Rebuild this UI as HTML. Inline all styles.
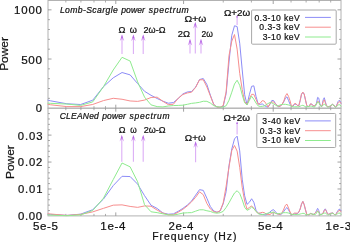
<!DOCTYPE html>
<html><head><meta charset="utf-8"><style>
html,body{margin:0;padding:0;background:#fff;width:350px;height:242px;overflow:hidden}
svg{display:block;will-change:transform}
text{font-family:"Liberation Sans",sans-serif}
</style></head><body>
<svg width="350" height="242" viewBox="0 0 350 242" font-family="Liberation Sans, sans-serif">
<rect width="350" height="242" fill="#fff"/>
<rect x="48.0" y="0.5" width="293.0" height="107.7" fill="none" stroke="#b2b2b2" stroke-width="1"/>
<line x1="115.79" y1="108.2" x2="115.79" y2="104.7" stroke="#8a8a8a" stroke-width="0.8"/>
<line x1="115.79" y1="0.5" x2="115.79" y2="4" stroke="#8a8a8a" stroke-width="0.8"/>
<line x1="183.59" y1="108.2" x2="183.59" y2="104.7" stroke="#8a8a8a" stroke-width="0.8"/>
<line x1="183.59" y1="0.5" x2="183.59" y2="4" stroke="#8a8a8a" stroke-width="0.8"/>
<line x1="273.21" y1="108.2" x2="273.21" y2="104.7" stroke="#8a8a8a" stroke-width="0.8"/>
<line x1="273.21" y1="0.5" x2="273.21" y2="4" stroke="#8a8a8a" stroke-width="0.8"/>
<line x1="65.83" y1="108.2" x2="65.83" y2="106.2" stroke="#8a8a8a" stroke-width="0.7"/>
<line x1="65.83" y1="0.5" x2="65.83" y2="2.5" stroke="#8a8a8a" stroke-width="0.7"/>
<line x1="80.91" y1="108.2" x2="80.91" y2="106.2" stroke="#8a8a8a" stroke-width="0.7"/>
<line x1="80.91" y1="0.5" x2="80.91" y2="2.5" stroke="#8a8a8a" stroke-width="0.7"/>
<line x1="93.97" y1="108.2" x2="93.97" y2="106.2" stroke="#8a8a8a" stroke-width="0.7"/>
<line x1="93.97" y1="0.5" x2="93.97" y2="2.5" stroke="#8a8a8a" stroke-width="0.7"/>
<line x1="105.49" y1="108.2" x2="105.49" y2="106.2" stroke="#8a8a8a" stroke-width="0.7"/>
<line x1="105.49" y1="0.5" x2="105.49" y2="2.5" stroke="#8a8a8a" stroke-width="0.7"/>
<line x1="223.24" y1="108.2" x2="223.24" y2="106.2" stroke="#8a8a8a" stroke-width="0.7"/>
<line x1="223.24" y1="0.5" x2="223.24" y2="2.5" stroke="#8a8a8a" stroke-width="0.7"/>
<line x1="251.38" y1="108.2" x2="251.38" y2="106.2" stroke="#8a8a8a" stroke-width="0.7"/>
<line x1="251.38" y1="0.5" x2="251.38" y2="2.5" stroke="#8a8a8a" stroke-width="0.7"/>
<line x1="291.04" y1="108.2" x2="291.04" y2="106.2" stroke="#8a8a8a" stroke-width="0.7"/>
<line x1="291.04" y1="0.5" x2="291.04" y2="2.5" stroke="#8a8a8a" stroke-width="0.7"/>
<line x1="306.12" y1="108.2" x2="306.12" y2="106.2" stroke="#8a8a8a" stroke-width="0.7"/>
<line x1="306.12" y1="0.5" x2="306.12" y2="2.5" stroke="#8a8a8a" stroke-width="0.7"/>
<line x1="319.18" y1="108.2" x2="319.18" y2="106.2" stroke="#8a8a8a" stroke-width="0.7"/>
<line x1="319.18" y1="0.5" x2="319.18" y2="2.5" stroke="#8a8a8a" stroke-width="0.7"/>
<line x1="330.7" y1="108.2" x2="330.7" y2="106.2" stroke="#8a8a8a" stroke-width="0.7"/>
<line x1="330.7" y1="0.5" x2="330.7" y2="2.5" stroke="#8a8a8a" stroke-width="0.7"/>
<line x1="48.0" y1="59.02" x2="51.5" y2="59.02" stroke="#8a8a8a" stroke-width="0.8"/>
<line x1="341.0" y1="59.02" x2="337.5" y2="59.02" stroke="#8a8a8a" stroke-width="0.8"/>
<line x1="48.0" y1="9.84" x2="51.5" y2="9.84" stroke="#8a8a8a" stroke-width="0.8"/>
<line x1="341.0" y1="9.84" x2="337.5" y2="9.84" stroke="#8a8a8a" stroke-width="0.8"/>
<line x1="48.0" y1="98.36" x2="50.0" y2="98.36" stroke="#8a8a8a" stroke-width="0.7"/>
<line x1="341.0" y1="98.36" x2="339.0" y2="98.36" stroke="#8a8a8a" stroke-width="0.7"/>
<line x1="48.0" y1="88.53" x2="50.0" y2="88.53" stroke="#8a8a8a" stroke-width="0.7"/>
<line x1="341.0" y1="88.53" x2="339.0" y2="88.53" stroke="#8a8a8a" stroke-width="0.7"/>
<line x1="48.0" y1="78.69" x2="50.0" y2="78.69" stroke="#8a8a8a" stroke-width="0.7"/>
<line x1="341.0" y1="78.69" x2="339.0" y2="78.69" stroke="#8a8a8a" stroke-width="0.7"/>
<line x1="48.0" y1="68.85" x2="50.0" y2="68.85" stroke="#8a8a8a" stroke-width="0.7"/>
<line x1="341.0" y1="68.85" x2="339.0" y2="68.85" stroke="#8a8a8a" stroke-width="0.7"/>
<line x1="48.0" y1="49.18" x2="50.0" y2="49.18" stroke="#8a8a8a" stroke-width="0.7"/>
<line x1="341.0" y1="49.18" x2="339.0" y2="49.18" stroke="#8a8a8a" stroke-width="0.7"/>
<line x1="48.0" y1="39.35" x2="50.0" y2="39.35" stroke="#8a8a8a" stroke-width="0.7"/>
<line x1="341.0" y1="39.35" x2="339.0" y2="39.35" stroke="#8a8a8a" stroke-width="0.7"/>
<line x1="48.0" y1="29.51" x2="50.0" y2="29.51" stroke="#8a8a8a" stroke-width="0.7"/>
<line x1="341.0" y1="29.51" x2="339.0" y2="29.51" stroke="#8a8a8a" stroke-width="0.7"/>
<line x1="48.0" y1="19.67" x2="50.0" y2="19.67" stroke="#8a8a8a" stroke-width="0.7"/>
<line x1="341.0" y1="19.67" x2="339.0" y2="19.67" stroke="#8a8a8a" stroke-width="0.7"/>
<rect x="48.0" y="108.2" width="293.0" height="107.7" fill="none" stroke="#b2b2b2" stroke-width="1"/>
<line x1="115.79" y1="215.9" x2="115.79" y2="212.4" stroke="#8a8a8a" stroke-width="0.8"/>
<line x1="115.79" y1="108.2" x2="115.79" y2="111.7" stroke="#8a8a8a" stroke-width="0.8"/>
<line x1="183.59" y1="215.9" x2="183.59" y2="212.4" stroke="#8a8a8a" stroke-width="0.8"/>
<line x1="183.59" y1="108.2" x2="183.59" y2="111.7" stroke="#8a8a8a" stroke-width="0.8"/>
<line x1="273.21" y1="215.9" x2="273.21" y2="212.4" stroke="#8a8a8a" stroke-width="0.8"/>
<line x1="273.21" y1="108.2" x2="273.21" y2="111.7" stroke="#8a8a8a" stroke-width="0.8"/>
<line x1="65.83" y1="215.9" x2="65.83" y2="213.9" stroke="#8a8a8a" stroke-width="0.7"/>
<line x1="65.83" y1="108.2" x2="65.83" y2="110.2" stroke="#8a8a8a" stroke-width="0.7"/>
<line x1="80.91" y1="215.9" x2="80.91" y2="213.9" stroke="#8a8a8a" stroke-width="0.7"/>
<line x1="80.91" y1="108.2" x2="80.91" y2="110.2" stroke="#8a8a8a" stroke-width="0.7"/>
<line x1="93.97" y1="215.9" x2="93.97" y2="213.9" stroke="#8a8a8a" stroke-width="0.7"/>
<line x1="93.97" y1="108.2" x2="93.97" y2="110.2" stroke="#8a8a8a" stroke-width="0.7"/>
<line x1="105.49" y1="215.9" x2="105.49" y2="213.9" stroke="#8a8a8a" stroke-width="0.7"/>
<line x1="105.49" y1="108.2" x2="105.49" y2="110.2" stroke="#8a8a8a" stroke-width="0.7"/>
<line x1="223.24" y1="215.9" x2="223.24" y2="213.9" stroke="#8a8a8a" stroke-width="0.7"/>
<line x1="223.24" y1="108.2" x2="223.24" y2="110.2" stroke="#8a8a8a" stroke-width="0.7"/>
<line x1="251.38" y1="215.9" x2="251.38" y2="213.9" stroke="#8a8a8a" stroke-width="0.7"/>
<line x1="251.38" y1="108.2" x2="251.38" y2="110.2" stroke="#8a8a8a" stroke-width="0.7"/>
<line x1="291.04" y1="215.9" x2="291.04" y2="213.9" stroke="#8a8a8a" stroke-width="0.7"/>
<line x1="291.04" y1="108.2" x2="291.04" y2="110.2" stroke="#8a8a8a" stroke-width="0.7"/>
<line x1="306.12" y1="215.9" x2="306.12" y2="213.9" stroke="#8a8a8a" stroke-width="0.7"/>
<line x1="306.12" y1="108.2" x2="306.12" y2="110.2" stroke="#8a8a8a" stroke-width="0.7"/>
<line x1="319.18" y1="215.9" x2="319.18" y2="213.9" stroke="#8a8a8a" stroke-width="0.7"/>
<line x1="319.18" y1="108.2" x2="319.18" y2="110.2" stroke="#8a8a8a" stroke-width="0.7"/>
<line x1="330.7" y1="215.9" x2="330.7" y2="213.9" stroke="#8a8a8a" stroke-width="0.7"/>
<line x1="330.7" y1="108.2" x2="330.7" y2="110.2" stroke="#8a8a8a" stroke-width="0.7"/>
<line x1="48.0" y1="188.98" x2="51.5" y2="188.98" stroke="#8a8a8a" stroke-width="0.8"/>
<line x1="341.0" y1="188.98" x2="337.5" y2="188.98" stroke="#8a8a8a" stroke-width="0.8"/>
<line x1="48.0" y1="162.05" x2="51.5" y2="162.05" stroke="#8a8a8a" stroke-width="0.8"/>
<line x1="341.0" y1="162.05" x2="337.5" y2="162.05" stroke="#8a8a8a" stroke-width="0.8"/>
<line x1="48.0" y1="135.12" x2="51.5" y2="135.12" stroke="#8a8a8a" stroke-width="0.8"/>
<line x1="341.0" y1="135.12" x2="337.5" y2="135.12" stroke="#8a8a8a" stroke-width="0.8"/>
<line x1="48.0" y1="210.52" x2="50.0" y2="210.52" stroke="#8a8a8a" stroke-width="0.7"/>
<line x1="341.0" y1="210.52" x2="339.0" y2="210.52" stroke="#8a8a8a" stroke-width="0.7"/>
<line x1="48.0" y1="205.13" x2="50.0" y2="205.13" stroke="#8a8a8a" stroke-width="0.7"/>
<line x1="341.0" y1="205.13" x2="339.0" y2="205.13" stroke="#8a8a8a" stroke-width="0.7"/>
<line x1="48.0" y1="199.75" x2="50.0" y2="199.75" stroke="#8a8a8a" stroke-width="0.7"/>
<line x1="341.0" y1="199.75" x2="339.0" y2="199.75" stroke="#8a8a8a" stroke-width="0.7"/>
<line x1="48.0" y1="194.36" x2="50.0" y2="194.36" stroke="#8a8a8a" stroke-width="0.7"/>
<line x1="341.0" y1="194.36" x2="339.0" y2="194.36" stroke="#8a8a8a" stroke-width="0.7"/>
<line x1="48.0" y1="183.59" x2="50.0" y2="183.59" stroke="#8a8a8a" stroke-width="0.7"/>
<line x1="341.0" y1="183.59" x2="339.0" y2="183.59" stroke="#8a8a8a" stroke-width="0.7"/>
<line x1="48.0" y1="178.21" x2="50.0" y2="178.21" stroke="#8a8a8a" stroke-width="0.7"/>
<line x1="341.0" y1="178.21" x2="339.0" y2="178.21" stroke="#8a8a8a" stroke-width="0.7"/>
<line x1="48.0" y1="172.82" x2="50.0" y2="172.82" stroke="#8a8a8a" stroke-width="0.7"/>
<line x1="341.0" y1="172.82" x2="339.0" y2="172.82" stroke="#8a8a8a" stroke-width="0.7"/>
<line x1="48.0" y1="167.44" x2="50.0" y2="167.44" stroke="#8a8a8a" stroke-width="0.7"/>
<line x1="341.0" y1="167.44" x2="339.0" y2="167.44" stroke="#8a8a8a" stroke-width="0.7"/>
<line x1="48.0" y1="156.67" x2="50.0" y2="156.67" stroke="#8a8a8a" stroke-width="0.7"/>
<line x1="341.0" y1="156.67" x2="339.0" y2="156.67" stroke="#8a8a8a" stroke-width="0.7"/>
<line x1="48.0" y1="151.28" x2="50.0" y2="151.28" stroke="#8a8a8a" stroke-width="0.7"/>
<line x1="341.0" y1="151.28" x2="339.0" y2="151.28" stroke="#8a8a8a" stroke-width="0.7"/>
<line x1="48.0" y1="145.9" x2="50.0" y2="145.9" stroke="#8a8a8a" stroke-width="0.7"/>
<line x1="341.0" y1="145.9" x2="339.0" y2="145.9" stroke="#8a8a8a" stroke-width="0.7"/>
<line x1="48.0" y1="140.51" x2="50.0" y2="140.51" stroke="#8a8a8a" stroke-width="0.7"/>
<line x1="341.0" y1="140.51" x2="339.0" y2="140.51" stroke="#8a8a8a" stroke-width="0.7"/>
<line x1="48.0" y1="129.74" x2="50.0" y2="129.74" stroke="#8a8a8a" stroke-width="0.7"/>
<line x1="341.0" y1="129.74" x2="339.0" y2="129.74" stroke="#8a8a8a" stroke-width="0.7"/>
<line x1="48.0" y1="124.36" x2="50.0" y2="124.36" stroke="#8a8a8a" stroke-width="0.7"/>
<line x1="341.0" y1="124.36" x2="339.0" y2="124.36" stroke="#8a8a8a" stroke-width="0.7"/>
<line x1="48.0" y1="118.97" x2="50.0" y2="118.97" stroke="#8a8a8a" stroke-width="0.7"/>
<line x1="341.0" y1="118.97" x2="339.0" y2="118.97" stroke="#8a8a8a" stroke-width="0.7"/>
<line x1="48.0" y1="113.59" x2="50.0" y2="113.59" stroke="#8a8a8a" stroke-width="0.7"/>
<line x1="341.0" y1="113.59" x2="339.0" y2="113.59" stroke="#8a8a8a" stroke-width="0.7"/>
<polyline points="48,100.2 50.7,100.85 66.81,103.77 80.63,104.5 92.74,100.21 103.51,86.62 113.22,77.82 122.04,72.51 130.14,74.88 137.62,83.56 144.56,91.32 151.05,95.31 157.13,98.49 162.86,101.17 168.27,103.23 173.39,102.57 178.26,98.48 182.9,93.91 187.33,91.97 191.57,91.53 195.63,87.08 199.53,79.55 203.28,78.51 206.89,84.5 210.37,95.12 213.73,104.47 216.98,107.05 220.13,107.29 223.18,106.24 226.14,93.76 229.01,61.94 231.79,35.28 234.5,25.78 237.14,26.56 239.71,43.19 242.21,69.92 244.65,94.68 247.03,104.71 249.36,94.72 251.63,86.32 253.84,85.83 256.01,96.35 258.14,103.72 260.21,104.44 262.25,103.9 264.24,105.43 266.19,106.62 268.11,107.09 269.98,104.24 271.83,100.44 273.64,100.58 275.41,103.49 277.15,105.73 278.87,106.8 280.55,105.93 282.21,104.21 283.84,101.58 285.44,98.1 287.01,96.79 288.56,100.61 290.09,104.24 291.59,106.75 293.07,106.01 294.53,104.39 295.97,104.05 297.38,105.48 298.78,105.77 300.15,100.69 301.51,94.33 302.85,92.4 304.17,94.08 305.47,99.87 306.76,105.49 308.02,106.62 309.28,106.25 310.51,103.86 311.74,104.1 312.94,105.57 314.13,106.06 315.31,105.33 316.47,103.21 317.62,97.38 318.76,98.09 319.88,104.01 320.99,106.32 322.09,106.02 323.18,99.79 324.25,97.73 325.31,101.42 326.36,105.42 327.4,106.35 328.43,106.65 329.45,106.79 330.46,106.38 331.45,105.16 332.44,104.32 333.42,104.84 334.38,106.18 335.34,107.08 336.29,106.26 337.23,103.89 338.16,101.44 339.08,100.3 340,101.02 340.9,102.94 341,103.2" fill="none" stroke="#8c8cf7" stroke-width="1.0" stroke-linejoin="round" stroke-linecap="round"/>
<polyline points="48,104.3 50.7,104.79 66.81,106.6 80.63,106.6 92.74,104.46 103.51,100.57 113.22,98.3 122.04,99.25 130.14,100.96 137.62,101.39 144.56,100.09 151.05,97.48 157.13,97.15 162.86,101.29 168.27,104.62 173.39,104.25 178.26,98.17 182.9,94.5 187.33,92.94 191.57,92.19 195.63,87.37 199.53,79.8 203.28,79.78 206.89,86.95 210.37,95.93 213.73,104.51 216.98,107.05 220.13,107.2 223.18,105.58 226.14,91.84 229.01,55.62 231.79,41.12 234.5,34.54 237.14,49.11 239.71,73.4 242.21,89.47 244.65,101.47 247.03,104.48 249.36,99.01 251.63,94.34 253.84,94.39 256.01,99.44 258.14,104.35 260.21,103.29 262.25,100.63 264.24,101.1 266.19,103.88 268.11,107.08 269.98,103.45 271.83,102.06 273.64,101.88 275.41,103.94 277.15,105.57 278.87,106.39 280.55,106.09 282.21,104.05 283.84,101.1 285.44,95.9 287.01,93.55 288.56,96.41 290.09,100.93 291.59,106.65 293.07,105.67 294.53,103.57 295.97,103.62 297.38,105.41 298.78,105.76 300.15,100.57 301.51,94.07 302.85,92.11 304.17,94.03 305.47,99.93 306.76,105.49 308.02,106.62 309.28,106.25 310.51,103.86 311.74,104.1 312.94,105.57 314.13,106.05 315.31,105.27 316.47,103.86 317.62,101.39 318.76,101.74 319.88,104.52 320.99,106.28 322.09,106.2 323.18,101.43 324.25,99.84 325.31,102.57 326.36,105.56 327.4,106.34 328.43,106.65 329.45,106.79 330.46,106.38 331.45,105.16 332.44,104.32 333.42,104.84 334.38,106.18 335.34,107.08 336.29,106.43 337.23,104.55 338.16,102.61 339.08,101.7 340,102.03 340.9,103.05 341,103.2" fill="none" stroke="#f78e8e" stroke-width="1.0" stroke-linejoin="round" stroke-linecap="round"/>
<polyline points="48,103.2 50.7,103.34 66.81,104.05 80.63,105.4 92.74,101.89 103.51,86.63 113.22,69.99 122.04,57.3 130.14,61.05 137.62,81.83 144.56,97.11 151.05,104.86 157.13,106.61 162.86,106.88 168.27,106.02 173.39,105.56 178.26,105.41 182.9,105.18 187.33,104.3 191.57,103.36 195.63,102.92 199.53,102.32 203.28,101.24 206.89,101.33 210.37,103.05 213.73,105.66 216.98,106.7 220.13,107.19 223.18,106.97 226.14,105.75 229.01,100.23 231.79,92.21 234.5,83.98 237.14,80.22 239.71,85.3 242.21,94.84 244.65,102.82 247.03,104.93 249.36,100.25 251.63,96.23 253.84,99.28 256.01,103.02 258.14,105.92 260.21,106.48 262.25,106.31 264.24,105.95 266.19,104.84 268.11,103.53 269.98,102.51 271.83,102.91 273.64,103.82 275.41,105.06 277.15,106.08 278.87,105.6 280.55,104.71 282.21,104.45 283.84,104.32 285.44,104.34 287.01,104.6 288.56,104.99 290.09,105.43 291.59,106.22 293.07,106.79 294.53,106.8 295.97,106.8 297.38,106.8 298.78,106.77 300.15,106.26 301.51,105.58 302.85,105.31 304.17,105.99 305.47,106.75 306.76,106.74 308.02,106.52 309.28,106.27 310.51,106.11 311.74,106.24 312.94,106.7 314.13,107.07 315.31,106.4 316.47,104.01 317.62,101.96 318.76,102.33 319.88,104.91 320.99,106.5 322.09,106 323.18,105 324.25,104.26 325.31,104.64 326.36,106.11 327.4,107.09 328.43,106.88 329.45,106.28 330.46,105.55 331.45,104.92 332.44,104.61 333.42,105.08 334.38,106.28 335.34,107.08 336.29,106.79 337.23,105.92 338.16,105.02 339.08,104.6 340,105 340.9,105.97 341,106.1" fill="none" stroke="#8eeb8e" stroke-width="1.0" stroke-linejoin="round" stroke-linecap="round"/>
<polyline points="48,214.3 50.7,214.42 66.81,215.43 80.63,214.13 92.74,209.69 103.51,199 113.22,185.62 122.04,176.3 130.14,176.55 137.62,184.13 144.56,195.67 151.05,205.24 157.13,208.43 162.86,212.96 168.27,214.21 173.39,213.86 178.26,211.25 182.9,208.39 187.33,205.07 191.57,201.08 195.63,195.17 199.53,189.66 203.28,190.36 206.89,198.28 210.37,206.58 213.73,210.98 216.98,212.22 220.13,210.99 223.18,203.9 226.14,191.63 229.01,165.59 231.79,148.95 234.5,138.88 237.14,136.13 239.71,150.88 242.21,179.18 244.65,195.78 247.03,204.33 249.36,202.28 251.63,198.76 253.84,202.24 256.01,210.23 258.14,213.13 260.21,213.94 262.25,214.4 264.24,214.78 266.19,214.82 268.11,213.55 269.98,211.99 271.83,210.3 273.64,209.69 275.41,211.86 277.15,213.53 278.87,214.26 280.55,214.6 282.21,213.49 283.84,211.36 285.44,208.95 287.01,207.5 288.56,209.92 290.09,212.84 291.59,214.89 293.07,214.44 294.53,213.82 295.97,213.8 297.38,213.77 298.78,212.15 300.15,209.12 301.51,204.12 302.85,201.41 304.17,204.56 305.47,209.77 306.76,214.27 308.02,214.75 309.28,214.89 310.51,213.37 311.74,213.82 312.94,214.58 314.13,214.18 315.31,213.09 316.47,210.69 317.62,208.36 318.76,210.51 319.88,214.3 320.99,214.48 322.09,214.03 323.18,212.8 324.25,210.1 325.31,208.83 326.36,210.86 327.4,213.65 328.43,214.25 329.45,213.85 330.46,213.4 331.45,213.16 332.44,213.01 333.42,213.41 334.38,214.49 335.34,214.83 336.29,213.57 337.23,211.81 338.16,210.34 339.08,209.16 340,209.35 340.9,210.51 341,210.7" fill="none" stroke="#8c8cf7" stroke-width="1.0" stroke-linejoin="round" stroke-linecap="round"/>
<polyline points="48,213.8 50.7,214.01 66.81,215.41 80.63,214.37 92.74,211.89 103.51,208.33 113.22,205.16 122.04,204.86 130.14,206.43 137.62,207.37 144.56,205.95 151.05,206.22 157.13,210.12 162.86,213.07 168.27,214.77 173.39,214.76 178.26,212.15 182.9,209.3 187.33,205.85 191.57,201.84 195.63,197.3 199.53,191.83 203.28,194.67 206.89,203.51 210.37,209.01 213.73,211.64 216.98,212.38 220.13,210.79 223.18,202.88 226.14,186.19 229.01,166.88 231.79,150.52 234.5,145.5 237.14,151.1 239.71,167.32 242.21,187.34 244.65,201.02 247.03,209.2 249.36,207.49 251.63,205.9 253.84,208.21 256.01,211.37 258.14,213.29 260.21,212.88 262.25,212.32 264.24,212.62 266.19,213.96 268.11,214.45 269.98,214.56 271.83,213.08 273.64,212.24 275.41,213.18 277.15,213.89 278.87,214.17 280.55,214.3 282.21,212.48 283.84,209.04 285.44,205.23 287.01,204.27 288.56,208.02 290.09,211.91 291.59,214.88 293.07,214.11 294.53,213.04 295.97,213.14 297.38,213.28 298.78,211.83 300.15,209.07 301.51,204.16 302.85,201.41 304.17,204.56 305.47,209.77 306.76,214.27 308.02,214.75 309.28,214.89 310.51,213.37 311.74,213.82 312.94,214.58 314.13,214.13 315.31,213.07 316.47,211.77 317.62,210.73 318.76,212.07 319.88,214.41 320.99,214.48 322.09,214.02 323.18,212.91 324.25,210.6 325.31,209.52 326.36,211.29 327.4,213.74 328.43,214.25 329.45,213.85 330.46,213.4 331.45,213.16 332.44,213.01 333.42,213.41 334.38,214.49 335.34,214.84 336.29,213.76 337.23,212.31 338.16,211.28 339.08,210.54 340,210.65 340.9,211.38 341,211.5" fill="none" stroke="#f78e8e" stroke-width="1.0" stroke-linejoin="round" stroke-linecap="round"/>
<polyline points="48,214.8 50.7,215.08 66.81,215.7 80.63,214.88 92.74,210.47 103.51,198.13 113.22,179.56 122.04,163 130.14,166.86 137.62,181.78 144.56,204.69 151.05,211.79 157.13,212.64 162.86,213.81 168.27,214.85 173.39,215.04 178.26,214.13 182.9,213.07 187.33,212.78 191.57,212.63 195.63,211.16 199.53,209.8 203.28,209.79 206.89,210.75 210.37,211.45 213.73,212.7 216.98,213.16 220.13,212.71 223.18,211.4 226.14,207.46 229.01,202.78 231.79,197.71 234.5,192.97 237.14,190.73 239.71,193.45 242.21,199.78 244.65,207.23 247.03,210.29 249.36,209.22 251.63,207 253.84,208.69 256.01,211.32 258.14,213.61 260.21,214.38 262.25,214.58 264.24,214.19 266.19,213.67 268.11,213.1 269.98,212.65 271.83,212.32 273.64,212.24 275.41,213.28 277.15,213.79 278.87,213.6 280.55,213.32 282.21,212.95 283.84,212.7 285.44,212.7 287.01,212.7 288.56,213.08 290.09,213.8 291.59,214.29 293.07,214.42 294.53,214.52 295.97,214.58 297.38,214.6 298.78,214.4 300.15,214.03 301.51,213.63 302.85,213.35 304.17,213.43 305.47,214.3 306.76,214.9 308.02,214.64 309.28,214.13 310.51,213.81 311.74,213.9 312.94,214.17 314.13,214.46 315.31,214.6 316.47,213.13 317.62,211.15 318.76,212.43 319.88,214.72 320.99,214.76 322.09,214.23 323.18,213.58 324.25,213.1 325.31,213.09 326.36,213.87 327.4,214.72 328.43,214.86 329.45,214.54 330.46,214.05 331.45,213.58 332.44,213.31 333.42,213.64 334.38,214.56 335.34,214.88 336.29,214.53 337.23,213.93 338.16,213.34 339.08,213.01 340,213.29 340.9,214.19 341,214.3" fill="none" stroke="#8eeb8e" stroke-width="1.0" stroke-linejoin="round" stroke-linecap="round"/>
<line x1="122" y1="36.6" x2="122" y2="54" stroke="#dcaef6" stroke-width="1.1"/>
<path d="M122,34.6 L119.7,41.1 L121.4,39.5 L122.6,39.5 L124.3,41.1 Z" fill="#d6a0f2"/>
<path d="M122,34.6 L121,38.2 L123,38.2 Z" fill="#b466e2"/>
<line x1="133.4" y1="36.6" x2="133.4" y2="54" stroke="#dcaef6" stroke-width="1.1"/>
<path d="M133.4,34.6 L131.1,41.1 L132.8,39.5 L134,39.5 L135.7,41.1 Z" fill="#d6a0f2"/>
<path d="M133.4,34.6 L132.4,38.2 L134.4,38.2 Z" fill="#b466e2"/>
<line x1="143.2" y1="36.6" x2="143.2" y2="54" stroke="#dcaef6" stroke-width="1.1"/>
<path d="M143.2,34.6 L140.9,41.1 L142.6,39.5 L143.8,39.5 L145.5,41.1 Z" fill="#d6a0f2"/>
<path d="M143.2,34.6 L142.2,38.2 L144.2,38.2 Z" fill="#b466e2"/>
<line x1="190" y1="41" x2="190" y2="53.5" stroke="#dcaef6" stroke-width="1.1"/>
<path d="M190,39 L187.7,45.5 L189.4,43.9 L190.6,43.9 L192.3,45.5 Z" fill="#d6a0f2"/>
<path d="M190,39 L189,42.6 L191,42.6 Z" fill="#b466e2"/>
<line x1="201" y1="41" x2="201" y2="53.5" stroke="#dcaef6" stroke-width="1.1"/>
<path d="M201,39 L198.7,45.5 L200.4,43.9 L201.6,43.9 L203.3,45.5 Z" fill="#d6a0f2"/>
<path d="M201,39 L200,42.6 L202,42.6 Z" fill="#b466e2"/>
<line x1="195.3" y1="24" x2="195.3" y2="53.5" stroke="#dcaef6" stroke-width="1.1"/>
<path d="M195.3,22 L193,28.5 L194.7,26.9 L195.9,26.9 L197.6,28.5 Z" fill="#d6a0f2"/>
<path d="M195.3,22 L194.3,25.6 L196.3,25.6 Z" fill="#b466e2"/>
<line x1="237.1" y1="17.2" x2="237.1" y2="25" stroke="#dcaef6" stroke-width="1.1"/>
<path d="M237.1,15.2 L235.9,18.6 L236.5,17 L237.7,17 L238.3,18.6 Z" fill="#d6a0f2"/>
<path d="M237.1,15.2 L236.2,17.6 L238,17.6 Z" fill="#b466e2"/>
<line x1="121.8" y1="136.9" x2="121.8" y2="161.8" stroke="#dcaef6" stroke-width="1.1"/>
<path d="M121.8,134.9 L119.5,141.4 L121.2,139.8 L122.4,139.8 L124.1,141.4 Z" fill="#d6a0f2"/>
<path d="M121.8,134.9 L120.8,138.5 L122.8,138.5 Z" fill="#b466e2"/>
<line x1="133.4" y1="136.9" x2="133.4" y2="161.8" stroke="#dcaef6" stroke-width="1.1"/>
<path d="M133.4,134.9 L131.1,141.4 L132.8,139.8 L134,139.8 L135.7,141.4 Z" fill="#d6a0f2"/>
<path d="M133.4,134.9 L132.4,138.5 L134.4,138.5 Z" fill="#b466e2"/>
<line x1="143.2" y1="136.9" x2="143.2" y2="161.8" stroke="#dcaef6" stroke-width="1.1"/>
<path d="M143.2,134.9 L140.9,141.4 L142.6,139.8 L143.8,139.8 L145.5,141.4 Z" fill="#d6a0f2"/>
<path d="M143.2,134.9 L142.2,138.5 L144.2,138.5 Z" fill="#b466e2"/>
<line x1="195.6" y1="143.2" x2="195.6" y2="162.2" stroke="#dcaef6" stroke-width="1.1"/>
<path d="M195.6,141.2 L193.3,147.7 L195,146.1 L196.2,146.1 L197.9,147.7 Z" fill="#d6a0f2"/>
<path d="M195.6,141.2 L194.6,144.8 L196.6,144.8 Z" fill="#b466e2"/>
<line x1="237.1" y1="123.6" x2="237.1" y2="134.5" stroke="#dcaef6" stroke-width="1.1"/>
<path d="M237.1,121.6 L235.9,125 L236.5,123.4 L237.7,123.4 L238.3,125 Z" fill="#d6a0f2"/>
<path d="M237.1,121.6 L236.2,124 L238,124 Z" fill="#b466e2"/>
<rect x="251.6" y="10.0" width="84.6" height="34.2" fill="#fff" stroke="#a8a8a8" stroke-width="1" rx="1"/>
<line x1="305" y1="17.4" x2="330.8" y2="17.4" stroke="#8c8cf7" stroke-width="1"/>
<line x1="305" y1="27.2" x2="330.8" y2="27.2" stroke="#f78e8e" stroke-width="1"/>
<line x1="305" y1="37" x2="330.8" y2="37" stroke="#8eeb8e" stroke-width="1"/>
<rect x="256.8" y="113.5" width="78.9" height="34" fill="#fff" stroke="#a8a8a8" stroke-width="1" rx="1"/>
<line x1="305" y1="120.9" x2="330.8" y2="120.9" stroke="#8c8cf7" stroke-width="1"/>
<line x1="305" y1="130.7" x2="330.8" y2="130.7" stroke="#f78e8e" stroke-width="1"/>
<line x1="305" y1="140.5" x2="330.8" y2="140.5" stroke="#8eeb8e" stroke-width="1"/>
<text x="13.93" y="14" font-size="11.43" textLength="28.04" lengthAdjust="spacing" fill="#111111" stroke="#111111" stroke-width="0.22">1000</text>
<text x="21.22" y="63.8" font-size="11.71" textLength="20.8" lengthAdjust="spacing" fill="#111111" stroke="#111111" stroke-width="0.22">500</text>
<text x="35.76" y="112.3" font-size="11.43" textLength="6.26" lengthAdjust="spacingAndGlyphs" fill="#111111" stroke="#111111" stroke-width="0.22">0</text>
<text x="17.81" y="139.5" font-size="11.29" textLength="24.71" lengthAdjust="spacing" fill="#111111" stroke="#111111" stroke-width="0.22">0.03</text>
<text x="17.86" y="166.4" font-size="11.29" textLength="24.52" lengthAdjust="spacing" fill="#111111" stroke="#111111" stroke-width="0.22">0.02</text>
<text x="17.91" y="193.3" font-size="11.29" textLength="24.6" lengthAdjust="spacing" fill="#111111" stroke="#111111" stroke-width="0.22">0.01</text>
<text x="17.95" y="220.2" font-size="11.43" textLength="24.2" lengthAdjust="spacing" fill="#111111" stroke="#111111" stroke-width="0.22">0.00</text>
<text x="32.92" y="230" font-size="11.59" textLength="24.94" lengthAdjust="spacing" fill="#111111" stroke="#111111" stroke-width="0.22">5e-5</text>
<text x="100.32" y="230" font-size="11.59" textLength="25.18" lengthAdjust="spacing" fill="#111111" stroke="#111111" stroke-width="0.22">1e-4</text>
<text x="168.5" y="230" font-size="11.43" textLength="24.81" lengthAdjust="spacing" fill="#111111" stroke="#111111" stroke-width="0.22">2e-4</text>
<text x="258.12" y="230" font-size="11.59" textLength="24.64" lengthAdjust="spacing" fill="#111111" stroke="#111111" stroke-width="0.22">5e-4</text>
<text x="325.6" y="230" font-size="11.43" textLength="25.59" lengthAdjust="spacing" fill="#111111" stroke="#111111" stroke-width="0.22">1e-3</text>
<text x="152.16" y="239.6" font-size="10.41" textLength="84.28" lengthAdjust="spacing" fill="#111111" stroke="#111111" stroke-width="0.22">Frequency (Hz)</text>
<text x="254.38" y="20.6" font-size="8.6" textLength="45.4" lengthAdjust="spacing" fill="#111111" stroke="#111111" stroke-width="0.22">0.3-10 keV</text>
<text x="259.36" y="30.2" font-size="8.6" textLength="40.3" lengthAdjust="spacing" fill="#111111" stroke="#111111" stroke-width="0.22">0.3-3 keV</text>
<text x="262.65" y="39.7" font-size="8.6" textLength="37.1" lengthAdjust="spacing" fill="#111111" stroke="#111111" stroke-width="0.22">3-10 keV</text>
<text x="262.37" y="124.1" font-size="8.6" textLength="37.77" lengthAdjust="spacing" fill="#111111" stroke="#111111" stroke-width="0.22">3-40 keV</text>
<text x="259.87" y="133.7" font-size="8.6" textLength="40.33" lengthAdjust="spacing" fill="#111111" stroke="#111111" stroke-width="0.22">0.3-3 keV</text>
<text x="262.33" y="143.2" font-size="8.6" textLength="37.82" lengthAdjust="spacing" fill="#111111" stroke="#111111" stroke-width="0.22">3-10 keV</text>
<text x="59.9" y="13.4" font-size="8.63" textLength="57.85" lengthAdjust="spacing" font-style="italic" fill="#111111" stroke="#111111" stroke-width="0.22">Lomb-Scargle</text>
<text x="121.27" y="13.4" font-size="8.63" textLength="23.54" lengthAdjust="spacing" font-style="italic" fill="#111111" stroke="#111111" stroke-width="0.22">power</text>
<text x="148.86" y="13.4" font-size="8.63" textLength="39.91" lengthAdjust="spacing" font-style="italic" fill="#111111" stroke="#111111" stroke-width="0.22">spectrum</text>
<text x="59.74" y="119.2" font-size="8.49" textLength="39.06" lengthAdjust="spacing" font-style="italic" fill="#111111" stroke="#111111" stroke-width="0.22">CLEANed</text>
<text x="102.23" y="119.2" font-size="8.49" textLength="23.68" lengthAdjust="spacing" font-style="italic" fill="#111111" stroke="#111111" stroke-width="0.22">power</text>
<text x="129.61" y="119.2" font-size="8.49" textLength="39.93" lengthAdjust="spacing" font-style="italic" fill="#111111" stroke="#111111" stroke-width="0.22">spectrum</text>
<text x="118.57" y="33" font-size="8.6" textLength="6.92" lengthAdjust="spacingAndGlyphs" fill="#111111" stroke="#111111" stroke-width="0.22">Ω</text>
<text x="129.78" y="33" font-size="8.6" textLength="7.15" lengthAdjust="spacingAndGlyphs" fill="#111111" stroke="#111111" stroke-width="0.22">ω</text>
<text x="143.55" y="33" font-size="8.6" textLength="21.93" lengthAdjust="spacingAndGlyphs" fill="#111111" stroke="#111111" stroke-width="0.22">2ω-Ω</text>
<text x="177.77" y="36.5" font-size="8.6" textLength="12.19" lengthAdjust="spacingAndGlyphs" fill="#111111" stroke="#111111" stroke-width="0.22">2Ω</text>
<text x="201.52" y="36.5" font-size="8.6" textLength="11.36" lengthAdjust="spacingAndGlyphs" fill="#111111" stroke="#111111" stroke-width="0.22">2ω</text>
<text x="184.49" y="22.2" font-size="8.6" textLength="21.75" lengthAdjust="spacingAndGlyphs" fill="#111111" stroke="#111111" stroke-width="0.22">Ω+ω</text>
<text x="223.94" y="15.5" font-size="8.6" textLength="26.31" lengthAdjust="spacingAndGlyphs" fill="#111111" stroke="#111111" stroke-width="0.22">Ω+2ω</text>
<text x="118.88" y="132.6" font-size="8.6" textLength="6.75" lengthAdjust="spacingAndGlyphs" fill="#111111" stroke="#111111" stroke-width="0.22">Ω</text>
<text x="130.29" y="132.6" font-size="8.6" textLength="6.48" lengthAdjust="spacingAndGlyphs" fill="#111111" stroke="#111111" stroke-width="0.22">ω</text>
<text x="143.65" y="132.6" font-size="8.6" textLength="21.98" lengthAdjust="spacingAndGlyphs" fill="#111111" stroke="#111111" stroke-width="0.22">2ω-Ω</text>
<text x="184.82" y="141.1" font-size="8.6" textLength="20.86" lengthAdjust="spacingAndGlyphs" fill="#111111" stroke="#111111" stroke-width="0.22">Ω+ω</text>
<text x="223.63" y="120.8" font-size="8.6" textLength="26.48" lengthAdjust="spacingAndGlyphs" fill="#111111" stroke="#111111" stroke-width="0.22">Ω+2ω</text>
<text transform="translate(8.4,70.85) rotate(-90)" x="0" y="0" font-size="10.6" textLength="33.72" lengthAdjust="spacingAndGlyphs" fill="#111111" stroke="#111111" stroke-width="0.22">Power</text>
<text transform="translate(13.6,178.95) rotate(-90)" x="0" y="0" font-size="10.6" textLength="33.72" lengthAdjust="spacingAndGlyphs" fill="#111111" stroke="#111111" stroke-width="0.22">Power</text>
</svg>
</body></html>
